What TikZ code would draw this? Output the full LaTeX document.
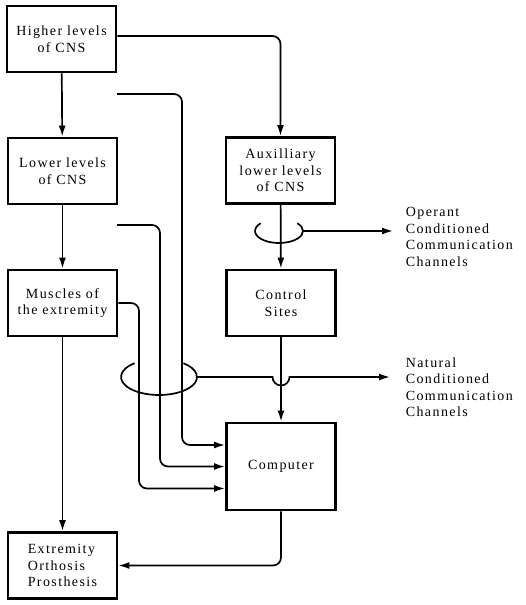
\documentclass[tikz,border=0pt]{standalone}
\usepackage{fontspec}
\setmainfont{Liberation Serif}[LetterSpace=10]
\usetikzlibrary{positioning,arrows.meta}

\begin{document}
\begin{tikzpicture}[x=1pt,y=-1pt,>={Latex[length=11pt,width=7pt]},
                    line width=1.7pt,font=\fontsize{14}{16.5}\selectfont]
  \tikzstyle{block}=[draw,line width=2.8pt,minimum width=109pt,
                     minimum height=66pt,inner sep=0pt,align=center]
  \tikzstyle{conn}=[->,rounded corners=8pt]
  \tikzstyle{channel}=[anchor=west,align=left,inner sep=0pt]
  \useasboundingbox (0,0) rectangle (526,605);

  % left column
  \node[block] (higher)    at (61.5,39)   {Higher levels\\of CNS};
  \node[block] (lower)     at (62.5,171)  {Lower levels\\of CNS};
  \node[block] (muscles)   at (62.5,303)  {Muscles of\\the extremity};
  \node[block,align=left]  (extremity) at (62.5,565.5)
                                          {Extremity\\Orthosis\\Prosthesis};
  % right column
  \node[block] (aux)       at (280.5,170.5) {Auxilliary\\lower levels\\of CNS};
  \node[block] (control)   at (281,303)   {Control\\Sites};
  \node[block,minimum height=87pt] (computer) at (281,466.5) {Computer};

  \node[channel] (operant) at (405,237)
        {Operant\\Conditioned\\Communication\\Channels};
  \node[channel] (natural) at (405,387)
        {Natural\\Conditioned\\Communication\\Channels};

  % free signal ends
  \coordinate (s1) at (117,94);
  \coordinate (s2) at (117,225);

  \draw[->] (higher) -- (lower);
  \draw[->] (lower) -- (muscles);
  \draw[->] (muscles) -- (extremity);
  \draw[conn] ([yshift=3pt]higher.east) -| (aux.north);
  \draw[->] (aux) -- (control);
  \draw[->] (control) -- (computer);
  \draw[conn] (computer.south) |- (extremity.east);

  \draw[conn] (s1) -| (182,300) |- ([yshift=21.5pt]computer.west);
  \draw[conn] (s2) -| (160,400) |- (computer.west);
  \draw[conn] (muscles.east) -| (139,400) |- ([yshift=-22pt]computer.west);

  % pick-up loops
  \draw (279,231) ++(140:24pt and 12pt)
        arc[start angle=140,end angle=400,x radius=24pt,y radius=12pt];
  \coordinate (op) at (303,231);
  \draw[->] (op) -- ([xshift=-12pt]op -| operant.west);
  \draw (159,377) ++(130:38pt and 18pt)
        arc[start angle=130,end angle=410,x radius=38pt,y radius=18pt];
  \coordinate (na) at (197,377);
  \draw[->] (na) -- (272.5,377)
        arc[start angle=180,end angle=360,radius=8.5pt]
        -- ([xshift=-15pt]na -| natural.west);
\end{tikzpicture}
\end{document}
